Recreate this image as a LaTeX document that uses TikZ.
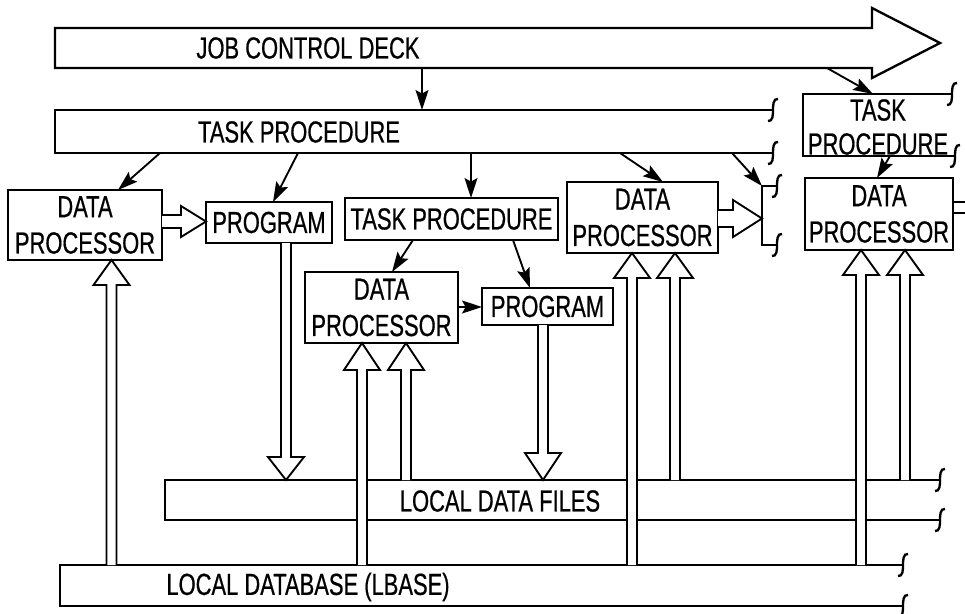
\documentclass[tikz,border=0pt]{standalone}
\usepackage{fontspec}
\setmainfont{Liberation Sans}[FakeStretch=0.72,FakeBold=0.6]
\usetikzlibrary{arrows.meta,fit}
\newcommand\hvarr[4]{%
  \fill[white] ({#1-5},#2) -- ({#1-5},#3) -- ({#1-18},#3) -- (#1,#4) -- ({#1+18},#3) -- ({#1+5},#3) -- ({#1+5},#2) -- cycle;
  \draw[hol] ({#1-5},#2) -- ({#1-5},#3) -- ({#1-18},#3) -- (#1,#4) -- ({#1+18},#3) -- ({#1+5},#3) -- ({#1+5},#2);}
\newcommand\hrarr[6]{%
  \fill[white] (#2,{#1-#5}) -- (#3,{#1-#5}) -- (#3,{#1-#6}) -- (#4,#1) -- (#3,{#1+#6}) -- (#3,{#1+#5}) -- (#2,{#1+#5}) -- cycle;
  \draw[hol] (#2,{#1-#5}) -- (#3,{#1-#5}) -- (#3,{#1-#6}) -- (#4,#1) -- (#3,{#1+#6}) -- (#3,{#1+#5}) -- (#2,{#1+#5});}
\newcommand\sqg[2]{%
  \draw[line width=2pt] ({#1+5},{#2-11}) .. controls ({#1},{#2-12}) and ({#1},{#2-4}) .. (#1,#2) .. controls ({#1},{#2+4}) and ({#1},{#2+12}) .. ({#1-5},{#2+11});}
\begin{document}
\begin{tikzpicture}[x=0.03cm,y=-0.03cm,line join=miter,
  box/.style={draw,line width=2pt,inner sep=0pt},
  lab/.style={inner sep=0pt,align=center,font=\fontsize{26}{31}\selectfont},
  thin/.style={line width=1.6pt,-{Stealth[length=17pt,width=11pt,inset=3pt]}},
  band/.style={line width=2pt},
  hol/.style={line width=1.6pt}]
\useasboundingbox (0,0) rectangle (965,613);
% job control deck arrow
\draw[band] (55,28) -- (872,28) -- (872,8) -- (940,43) -- (872,78) -- (872,68) -- (55,68) -- cycle;
\node[lab] (jcd) at (308,48) {JOB CONTROL DECK};
% task procedure band
\draw[band] (773,110) -- (55,110) -- (55,153) -- (773,153);
\sqg{773}{110}\sqg{773}{153}
\node[lab] (tpband) at (299,132) {TASK PROCEDURE};
% right task procedure
\draw[band] (952,94) -- (803,94) -- (803,156) -- (955,156);
\sqg{952}{94}\sqg{955}{156}
\node[lab,font=\fontsize{26}{29}\selectfont] (tpR) at (878,127) {TASK\\PROCEDURE};
% bracket
\draw[band] (777,186) -- (762,186) -- (762,245) -- (777,245);
\sqg{777}{186}\sqg{777}{245}
% local data files band
\draw[band] (940,480) -- (165,480) -- (165,520) -- (940,520);
\sqg{940}{480}\sqg{940}{520}
\node[lab] (ldf) at (500,501) {LOCAL DATA FILES};
% local database band
\draw[band] (903,565) -- (60,565) -- (60,606) -- (903,606);
\sqg{903}{565}\sqg{903}{606}
\node[lab] (ldb) at (308,587) {LOCAL DATABASE (LBASE)};
% boxes
\node[box,fit={(8,190)(162,260)}] (dpL) {};
\node[lab] at (dpL.center) {DATA\\PROCESSOR};
\node[box,fit={(206,202)(332,243)}] (prL) {};
\node[lab] at (prL.center) {PROGRAM};
\node[box,fit={(345,198)(558,240)}] (tpM) {};
\node[lab] at (tpM.center) {TASK PROCEDURE};
\node[box,fit={(305,272)(458,343)}] (dpM) {};
\node[lab] at (dpM.center) {DATA\\PROCESSOR};
\node[box,fit={(482,288)(613,325)}] (prM) {};
\node[lab] at (prM.center) {PROGRAM};
\node[box,fit={(567,182)(718,253)}] (dpMR) {};
\node[lab] at (dpMR.center) {DATA\\PROCESSOR};
\node[box,fit={(805,178)(953,250)}] (dpR) {};
\node[lab] at (dpR.center) {DATA\\PROCESSOR};
% thin arrows
\draw[thin] (422,68) -- (422,110);
\draw[thin] (827,68) -- (873,94);
\draw[thin] (160,153) -- (118,190);
\draw[thin] (298,153) -- (273,202);
\draw[thin] (471,153) -- (471,198);
\draw[thin] (620,153) -- (663,182);
\draw[thin] (732,153) -- (762,186);
\draw[thin] (413,240) -- (392,272);
\draw[thin] (513,240) -- (530,288);
\draw[thin] (458,307) -- (482,307);
\draw[thin] (890,156) -- (877,178);
% hollow horizontal arrows
\hrarr{221.5}{162}{181}{206}{6.5}{15.5}
\hrarr{218.5}{718}{733}{762}{8.5}{18.5}
\draw[hol] (953,202) -- (965,202) (953,213) -- (965,213);
% hollow vertical arrows
\hvarr{286}{243}{457}{480}
\hvarr{543}{325}{453}{480}
\hvarr{111.5}{565}{285}{260}
\hvarr{362}{565}{370}{343}
\hvarr{406}{480}{370}{343}
\hvarr{632}{565}{278}{253}
\hvarr{675}{480}{278}{253}
\hvarr{861}{565}{275}{250}
\hvarr{905}{480}{275}{250}
\end{tikzpicture}
\end{document}
